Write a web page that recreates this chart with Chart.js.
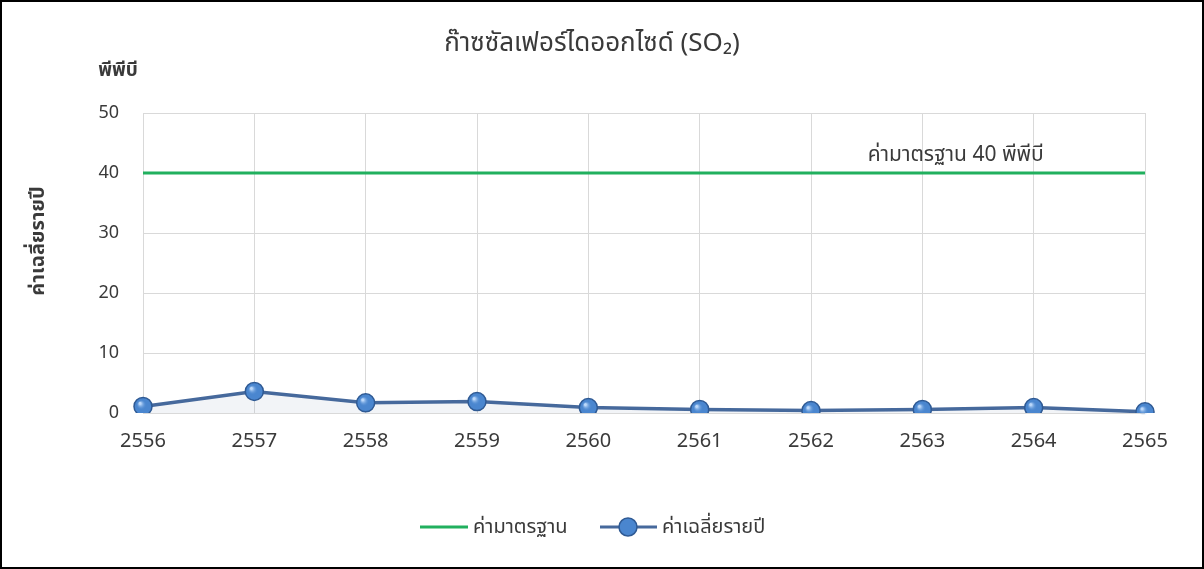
<!DOCTYPE html>
<html>
<head>
<meta charset="utf-8">
<script src="https://cdn.jsdelivr.net/npm/chart.js@4"></script>
<style>
  body { margin: 0; background: #fff; }
  #box { position: absolute; left: 0; top: 0; width: 1204px; height: 569px; box-sizing: border-box; border: 2px solid #000; background: #fff; }
  #so2 { display: block; }
</style>
</head>
<body>
<div id="box"><canvas id="so2" width="1200" height="565"></canvas></div>
<script>
// ข้อมูล
var years = ['2556', '2557', '2558', '2559', '2560', '2561', '2562', '2563', '2564', '2565'];
var standard = [40, 40, 40, 40, 40, 40, 40, 40, 40, 40];
var yearlyAvg = [1.1, 3.6, 1.7, 1.9, 0.9, 0.6, 0.4, 0.6, 0.9, 0.2];
var yTicks = [0, 10, 20, 30, 40, 50];

var titleText = 'ก๊าซซัลเฟอร์ไดออกไซด์ (SO₂)';
var unitText = 'พีพีบี';
var yTitle = 'ค่าเฉลี่ยรายปี';
var noteText = 'ค่ามาตรฐาน 40 พีพีบี';
var fontFam = '"Noto Sans", "Noto Sans Thai", Tahoma, sans-serif';
var textCol = '#3a3a3a';

// ข้อความ + legend วาดเอง
var extras = {
    id: 'extras',
    afterDatasetsDraw: function (chart) {
        var c = chart.ctx, x = chart.scales.x, y = chart.scales.y, a = chart.chartArea;
        // เงาบอลจุด
        chart.getDatasetMeta(1).data.forEach(function (p) {
            var g = c.createRadialGradient(p.x - 3, p.y - 3, 1, p.x, p.y, 9);
            g.addColorStop(0, 'rgba(200,225,255,0.9)');
            g.addColorStop(0.5, 'rgba(80,140,210,0)');
            c.save();
            c.beginPath();
            c.arc(p.x, p.y, 9, 0, Math.PI * 2);
            c.fillStyle = g;
            c.fill();
            c.restore();
        });
        c.save();
        c.fillStyle = textCol;
        c.textAlign = 'center';
        c.textBaseline = 'middle';
        c.font = '26px ' + fontFam;
        c.fillText(titleText, chart.width / 2 - 10, 42);
        c.font = 'bold 19px ' + fontFam;
        c.fillText(unitText, 116, 69);
        c.font = '21px ' + fontFam;
        c.fillText(noteText, x.getPixelForValue(7.3), y.getPixelForValue(43));
        c.save();
        c.translate(36, (a.top + a.bottom) / 2 - 22);
        c.rotate(-Math.PI / 2);
        c.font = 'bold 20px ' + fontFam;
        c.fillText(yTitle, 0, 0);
        c.restore();

        // legend
        var ly = 525;
        c.textAlign = 'left';
        c.font = '20px ' + fontFam;
        c.strokeStyle = '#21b05e';
        c.lineWidth = 3;
        c.beginPath(); c.moveTo(418, ly); c.lineTo(466, ly); c.stroke();
        c.fillText('ค่ามาตรฐาน', 471, ly);
        c.strokeStyle = '#46699c';
        c.beginPath(); c.moveTo(598, ly); c.lineTo(655, ly); c.stroke();
        c.beginPath(); c.arc(626, ly, 9, 0, Math.PI * 2);
        c.fillStyle = '#4a86cf'; c.fill();
        c.strokeStyle = '#2f5a94'; c.lineWidth = 1.5; c.stroke();
        c.fillStyle = textCol;
        c.fillText('ค่าเฉลี่ยรายปี', 660, ly);
        c.restore();
    }
};

var chart = new Chart(document.getElementById('so2'), {
    type: 'line',
    data: {
        labels: years,
        datasets: [{
            label: 'ค่ามาตรฐาน',
            data: standard,
            borderColor: '#21b05e',
            borderWidth: 3,
            pointRadius: 0,
            tension: 0
        }, {
            label: 'ค่าเฉลี่ยรายปี',
            data: yearlyAvg,
            borderColor: '#46699c',
            borderWidth: 3.5,
            backgroundColor: 'rgba(170,180,200,0.15)',
            fill: 'origin',
            pointRadius: 9,
            pointBackgroundColor: '#4a86cf',
            pointBorderColor: '#2f5a94',
            pointBorderWidth: 1.5,
            tension: 0
        }]
    },
    options: {
        responsive: false,
        animation: false,
        layout: { padding: { left: 91, right: 57, top: 111, bottom: 114 } },
        plugins: {
            legend: { display: false },
            title: { display: false },
            tooltip: { enabled: false }
        },
        scales: {
            x: {
                offset: false,
                grid: { color: '#d9d9d9', drawTicks: false },
                border: { display: false },
                ticks: { color: textCol, font: { family: fontFam, size: 20 }, padding: 16, maxRotation: 0 },
                afterFit: function (s) { s.height = 40; }
            },
            y: {
                min: 0,
                max: 50,
                grid: { color: '#d9d9d9', drawTicks: false },
                border: { display: false },
                afterBuildTicks: function (s) { s.ticks = yTicks.map(function (v) { return { value: v }; }); },
                ticks: { color: textCol, font: { family: fontFam, size: 18 }, padding: 24 },
                afterFit: function (s) { s.width = 50; }
            }
        }
    },
    plugins: [extras]
});
</script>
</body>
</html>
